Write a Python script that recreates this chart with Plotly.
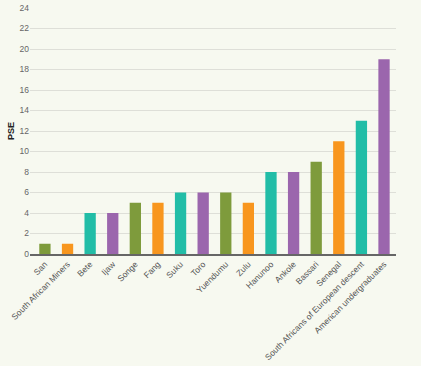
import plotly.graph_objects as go

categories = ["San", "South African Miners", "Bete", "Ijaw", "Songe", "Fang", "Suku", "Toro",
              "Yuendumu", "Zulu", "Hanunoo", "Ankole", "Bassari", "Senegal",
              "South Africans of European descent", "American undergraduates"]
pse_values = [1, 1, 4, 4, 5, 5, 6, 6, 6, 5, 8, 8, 9, 11, 13, 19]
palette = ["#7e9b3c", "#f8961e", "#22bda7", "#9b66ad"]
bar_colors = [palette[i % 4] for i in range(len(categories))]
y_ticks = list(range(0, 25, 2))

fig = go.Figure(go.Bar(
    x=categories, y=pse_values,
    marker=dict(color=bar_colors, line=dict(width=0)),
    width=0.5,
))

bg = "#f7f9f0"
fig.update_layout(
    width=421, height=366,
    margin=dict(l=30, r=25, t=8, b=112),
    paper_bgcolor=bg, plot_bgcolor=bg,
    font=dict(family="Liberation Sans, Arial, sans-serif", size=8.5, color="#555"),
    showlegend=False,
)
fig.update_xaxes(
    range=[-0.66, 15.53], tickangle=-45, showgrid=False,
    showline=True, linecolor="#666", linewidth=2, ticks="",
    tickfont=dict(size=8.5, color="#555"), automargin=False,
)
fig.update_yaxes(
    range=[0, 24], tickvals=y_ticks, showgrid=True, gridcolor="#dedfd8", gridwidth=1,
    zeroline=False, showline=False, ticks="",
    tickfont=dict(size=8.5, color="#666"),
    title=dict(text="<b>PSE</b>", font=dict(size=9, color="#222"), standoff=3),
    automargin=False,
)

fig.write_html(
    "out.html",
    config={"displayModeBar": False},
    post_script="document.body.style.margin='0';document.body.style.background='%s';" % bg,
)
